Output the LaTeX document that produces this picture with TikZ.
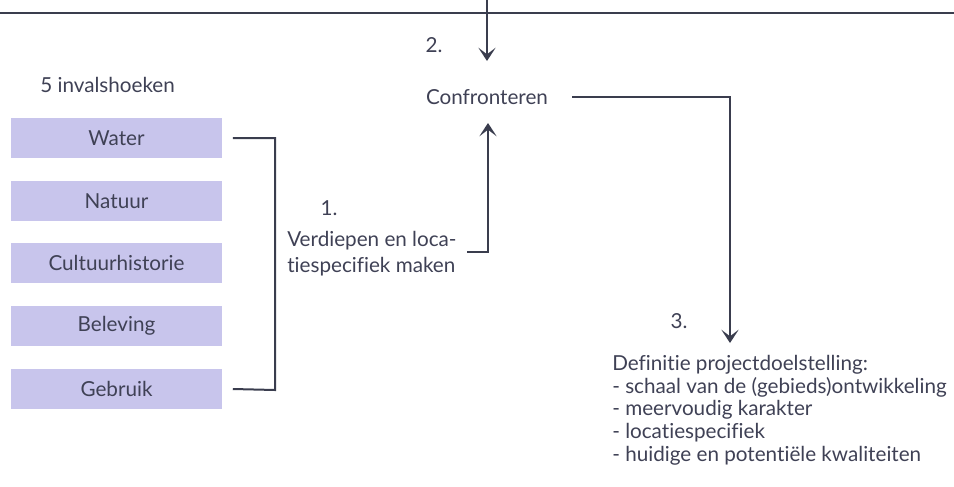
\documentclass[tikz,border=0pt]{standalone}
\usepackage{fontspec}
\setmainfont{Lato}[Ligatures=NoCommon]
\usetikzlibrary{arrows.meta}
\definecolor{ink}{HTML}{3A3D4E}
\definecolor{grijs}{HTML}{3F4155}
\definecolor{lilac}{HTML}{C8C5EC}
\tikzset{
  hoek/.style={fill=lilac, minimum width=158pt, minimum height=30pt, inner sep=0pt, text=grijs},
  tekst/.style={text=grijs, inner sep=0pt},
  verbind/.style={draw=ink, line width=1.5pt},
  pijl/.style={verbind, -{Stealth[length=10pt,width=13pt,inset=5pt]}},
}
\begin{document}
\begin{tikzpicture}[x=0.75pt,y=-0.75pt,font=\fontsize{15.5}{17}\selectfont]
\useasboundingbox (0,0) rectangle (954,486);
% top rule and incoming arrow
\coordinate (regl) at (0,13);
\coordinate (regr) at (954,13);
\draw[verbind] (regl) -- (regr);
\coordinate (boven) at (487,0);
\coordinate (bovenpunt) at (487,61);
\draw[pijl] (boven) -- (bovenpunt);
\node[tekst] (twee) at (434,45) {2.};
% the five points of view
\node[tekst, anchor=west] (vijf) at (40,85) {5 invalshoeken};
\node[hoek] (water) at (116.5,138) {Water};
\node[hoek] (natuur) at (116.5,201) {Natuur};
\node[hoek] (cultuur) at (116.5,263) {Cultuurhistorie};
\node[hoek] (beleving) at (116.5,326) {Beleving};
\node[hoek] (gebruik) at (116.5,389) {Gebruik};
% bracket round the boxes
\coordinate (brtop) at (275,138);
\coordinate (brbot) at (275,390);
\draw[verbind] ([xshift=8pt]water.east) -- (brtop) -- (brbot) -- ([xshift=8pt]gebruik.east);
% step 1
\node[tekst] (een) at (329,208) {1.};
\node[tekst, anchor=west, align=left, font=\fontsize{15.5}{19.5}\selectfont] (verdiep) at (287,254) {Verdiepen en loca-\\tiespecifiek maken};
\node[tekst] (confr) at (487,97) {Confronteren};
\coordinate (v1) at (467,252);
\coordinate (v2) at (488,252);
\coordinate (v3) at (488,123);
\draw[pijl] (v1) -- (v2) -- (v3);
% step 3
\coordinate (c1) at (572,97);
\coordinate (c2) at (730,97);
\coordinate (c3) at (730,343);
\draw[pijl] (c1) -- (c2) -- (c3);
\node[tekst] (drie) at (679,321) {3.};
\node[tekst, anchor=north west, align=left] (doel) at (612,355) {Definitie projectdoelstelling:\\
- schaal van de (gebieds)ontwikkeling\\
- meervoudig karakter\\
- locatiespecifiek\\
- huidige en potentiële kwaliteiten};
\end{tikzpicture}
\end{document}
